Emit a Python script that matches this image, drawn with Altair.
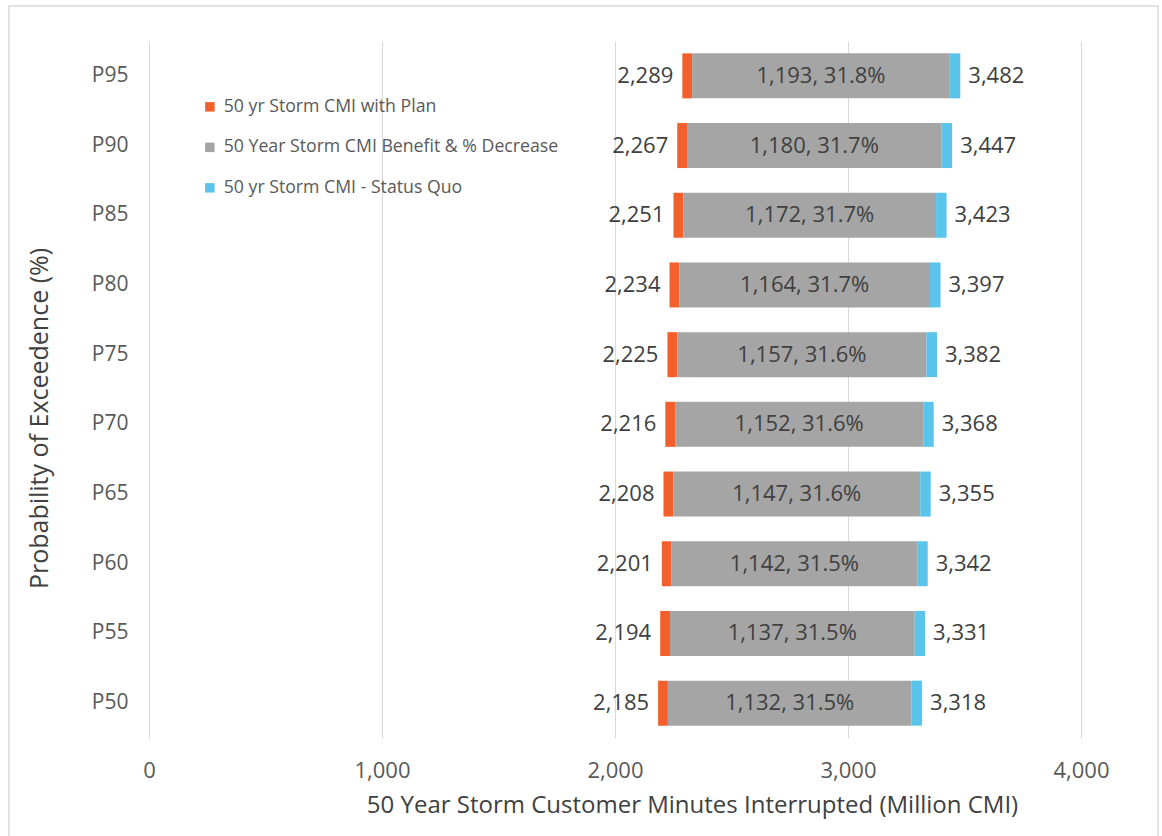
import altair as alt
import pandas as pd

categories = ["P95", "P90", "P85", "P80", "P75", "P70", "P65", "P60", "P55", "P50"]
with_plan = [2289, 2267, 2251, 2234, 2225, 2216, 2208, 2201, 2194, 2185]
benefit = [1193, 1180, 1172, 1164, 1157, 1152, 1147, 1142, 1137, 1132]
pct_decrease = [31.8, 31.7, 31.7, 31.7, 31.6, 31.6, 31.6, 31.5, 31.5, 31.5]
status_quo = [3482, 3447, 3423, 3397, 3382, 3368, 3355, 3342, 3331, 3318]

series = ["50 yr Storm CMI with Plan",
          "50 Year Storm CMI Benefit & % Decrease",
          "50 yr Storm CMI - Status Quo"]
colors = ["#F4602C", "#A5A5A5", "#5BC4EA"]

# visual marker widths (in data units) for the thin end segments
ORANGE_W = 42
BLUE_W = 45

rows = []
for c, p, b, pc, s in zip(categories, with_plan, benefit, pct_decrease, status_quo):
    rows.append({"cat": c, "series": series[0], "x0": p, "x1": p + ORANGE_W})
    rows.append({"cat": c, "series": series[1], "x0": p + ORANGE_W, "x1": s - BLUE_W})
    rows.append({"cat": c, "series": series[2], "x0": s - BLUE_W, "x1": s})
seg = pd.DataFrame(rows)

lab = pd.DataFrame({
    "cat": categories,
    "plan": with_plan,
    "sq": status_quo,
    "mid": [(p + ORANGE_W + s - BLUE_W) / 2 for p, s in zip(with_plan, status_quo)],
    "plan_t": [f"{v:,}" for v in with_plan],
    "sq_t": [f"{v:,}" for v in status_quo],
    "mid_t": [f"{b:,}, {pc:.1f}%" for b, pc in zip(benefit, pct_decrease)],
})

FONT = "Open Sans"
W, H = 932, 697

xscale = alt.Scale(domain=[0, 4000], nice=False, zero=True)
yscale = alt.Scale(domain=categories, paddingInner=0.35, paddingOuter=0.175)

bars = alt.Chart(seg).mark_bar(size=45).encode(
    y=alt.Y("cat:N", scale=yscale, sort=categories,
            axis=alt.Axis(title="Probability of Exceedence (%)", ticks=False, domain=False,
                          labelPadding=21, labelFontSize=21, labelColor="#595959",
                          labelFont=FONT, titleFont=FONT, titleFontSize=25,
                          titleFontWeight="normal", titleColor="#404040",
                          titlePadding=39, titleY=377, titleAnchor="middle",
                          grid=False)),
    x=alt.X("x0:Q", scale=xscale,
            axis=alt.Axis(title="50 Year Storm Customer Minutes Interrupted (Million CMI)",
                          values=[0, 1000, 2000, 3000, 4000], format=",d",
                          ticks=False, domain=False, grid=True, gridColor="#D9D9D9",
                          gridWidth=1, labelPadding=22, labelFontSize=22,
                          labelFlush=False,
                          labelColor="#595959", labelFont=FONT, titleFont=FONT,
                          titleFontSize=24, titleFontWeight="normal",
                          titleColor="#404040", titlePadding=12,
                          titleX=543, titleAnchor="middle")),
    x2="x1:Q",
    color=alt.Color("series:N", scale=alt.Scale(domain=series, range=colors),
                    legend=alt.Legend(title=None, orient="none", legendX=52, legendY=57,
                                      symbolType="square", symbolSize=90,
                                      symbolStrokeWidth=0, labelFontSize=17.7,
                                      labelFont=FONT, labelColor="#595959",
                                      labelLimit=600, rowPadding=21.5, labelOffset=5)),
    order=alt.value(0),
)

common_text = dict(fontSize=22, font=FONT, color="#404040", baseline="middle")

left_t = alt.Chart(lab).mark_text(align="right", dx=-9, **common_text).encode(
    y=alt.Y("cat:N", scale=yscale, sort=categories), x=alt.X("plan:Q", scale=xscale),
    text="plan_t:N")
right_t = alt.Chart(lab).mark_text(align="left", dx=8, **common_text).encode(
    y=alt.Y("cat:N", scale=yscale, sort=categories), x=alt.X("sq:Q", scale=xscale),
    text="sq_t:N")
mid_t = alt.Chart(lab).mark_text(align="center", **common_text).encode(
    y=alt.Y("cat:N", scale=yscale, sort=categories), x=alt.X("mid:Q", scale=xscale),
    text="mid_t:N")

border = alt.Chart(pd.DataFrame({"a": [0]})).mark_rect(
    fill="transparent", stroke="#D9D9D9", strokeWidth=1.5).encode(
    x=alt.value(-140), x2=alt.value(1009), y=alt.value(-35), y2=alt.value(810))

chart = alt.layer(border, bars, left_t, right_t, mid_t).properties(
    width=W, height=H,
    autosize=alt.AutoSizeParams(type="none"),
    padding={"left": 149, "top": 41, "right": 81, "bottom": 98},
).configure(background="white").configure_view(strokeWidth=0)

chart.save("out.html", embed_options={"renderer": "svg", "actions": False})
